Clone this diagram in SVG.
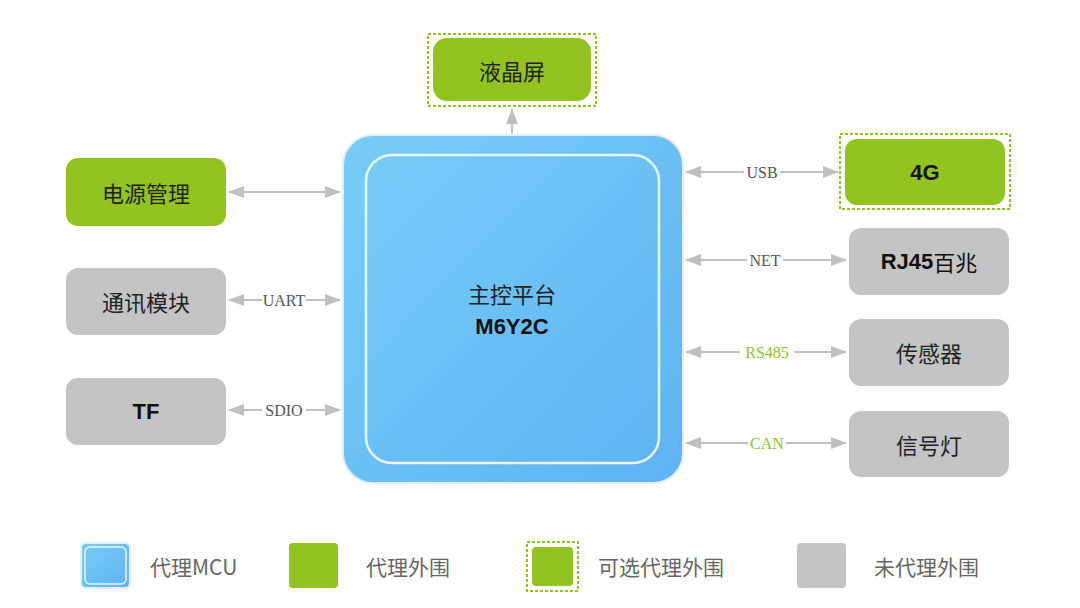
<svg xmlns="http://www.w3.org/2000/svg" width="1080" height="608" viewBox="0 0 1080 608">
<style>
.g{fill:#93c31f}
.gr{fill:#c4c4c4}
.dash{fill:none;stroke:#93c31f;stroke-width:2;stroke-dasharray:3 2}
.t{font-family:"Noto Sans CJK SC","Liberation Serif",serif;font-size:22px;fill:#222;text-anchor:middle;dominant-baseline:central}
.b{font-family:"Liberation Sans",Arial,sans-serif;font-size:22px;font-weight:bold;fill:#111;text-anchor:middle;dominant-baseline:central}
.l{font-family:"Liberation Serif","Noto Sans CJK SC",serif;font-size:16px;fill:#555;text-anchor:middle;dominant-baseline:central}
.lg{fill:#8fc31f}
.c{stroke:#c0c0c0;stroke-width:2;fill:none}
.lt{font-family:"Noto Sans CJK SC","Liberation Serif",serif;font-size:21px;fill:#666;dominant-baseline:central}
</style>
<defs>
<marker id="a" markerWidth="16" markerHeight="12" refX="15" refY="6" orient="auto-start-reverse" markerUnits="userSpaceOnUse"><path d="M0,0 L16,6 L0,12 Z" fill="#c0c0c0"/></marker>
<linearGradient id="bl" x1="0" y1="0" x2="1" y2="1"><stop offset="0" stop-color="#78cdf6"/><stop offset="1" stop-color="#5db3f4"/></linearGradient>
</defs>
<rect width="1080" height="608" fill="#fff"/>
<g id="connectors">
<line class="c" x1="512" y1="134" x2="512" y2="109" marker-end="url(#a)"/>
<line class="c" x1="229" y1="192" x2="340" y2="192" marker-start="url(#a)" marker-end="url(#a)"/>
<line class="c" x1="229" y1="300" x2="340" y2="300" marker-start="url(#a)" marker-end="url(#a)"/>
<line class="c" x1="229" y1="410" x2="340" y2="410" marker-start="url(#a)" marker-end="url(#a)"/>
<line class="c" x1="686" y1="172" x2="838" y2="172" marker-start="url(#a)" marker-end="url(#a)"/>
<line class="c" x1="686" y1="260" x2="846" y2="260" marker-start="url(#a)" marker-end="url(#a)"/>
<line class="c" x1="686" y1="352" x2="846" y2="352" marker-start="url(#a)" marker-end="url(#a)"/>
<line class="c" x1="686" y1="443" x2="846" y2="443" marker-start="url(#a)" marker-end="url(#a)"/>
<rect x="262" y="290" width="44" height="20" fill="#fff"/><text class="l" x="284" y="300">UART</text>
<rect x="262" y="400" width="44" height="20" fill="#fff"/><text class="l" x="284" y="410">SDIO</text>
<rect x="744" y="162" width="36" height="20" fill="#fff"/><text class="l" x="762" y="172">USB</text>
<rect x="747" y="250" width="36" height="20" fill="#fff"/><text class="l" x="765" y="260">NET</text>
<rect x="740" y="342" width="54" height="20" fill="#fff"/><text class="l lg" x="767" y="352">RS485</text>
<rect x="748" y="433" width="38" height="20" fill="#fff"/><text class="l lg" x="767" y="443">CAN</text>
</g>
<g id="mcu">
<rect x="343" y="135" width="340" height="348" rx="30" fill="url(#bl)" stroke="#e4eef6" stroke-width="2"/>
<rect x="366" y="155" width="293" height="308" rx="26" fill="none" stroke="#eaf6fd" stroke-width="2.5"/>
<text class="t" x="512" y="293">主控平台</text>
<text class="b" x="512" y="326">M6Y2C</text>
</g>
<g id="lcd"><rect class="dash" x="428" y="34" width="168" height="72"/><rect class="g" x="433" y="38" width="158" height="63" rx="14"/><text class="t" x="512" y="70">液晶屏</text></g>
<g id="power"><rect class="g" x="66" y="158" width="160" height="68" rx="12"/><text class="t" x="146" y="192">电源管理</text></g>
<g id="comm"><rect class="gr" x="66" y="268" width="160" height="67" rx="12"/><text class="t" x="146" y="301">通讯模块</text></g>
<g id="tf"><rect class="gr" x="66" y="378" width="160" height="67" rx="12"/><text class="b" x="146" y="411">TF</text></g>
<g id="g4"><rect class="dash" x="840" y="134" width="170" height="75"/><rect class="g" x="845" y="139" width="160" height="66" rx="12"/><text class="b" x="925" y="172">4G</text></g>
<g id="rj45"><rect class="gr" x="849" y="228" width="160" height="67" rx="12"/><text class="b" x="929" y="261">RJ45<tspan style="font-weight:normal;font-family:'Noto Sans CJK SC',sans-serif">百兆</tspan></text></g>
<g id="sensor"><rect class="gr" x="849" y="319" width="160" height="67" rx="12"/><text class="t" x="929" y="352">传感器</text></g>
<g id="light"><rect class="gr" x="849" y="411" width="160" height="66" rx="12"/><text class="t" x="929" y="444">信号灯</text></g>
<g id="legend">
<rect x="81" y="543" width="49" height="45" rx="5" fill="url(#bl)" stroke="#e4eef6" stroke-width="2"/>
<rect x="85" y="547" width="41" height="37" rx="5" fill="none" stroke="#eaf6fd" stroke-width="1.5"/>
<text class="lt" x="150" y="566">代理MCU</text>
<rect class="g" x="289" y="543" width="49" height="45" rx="4"/>
<text class="lt" x="366" y="566">代理外围</text>
<rect class="dash" x="527" y="542" width="51" height="49"/>
<rect class="g" x="532" y="547" width="41" height="39" rx="4"/>
<text class="lt" x="598" y="566">可选代理外围</text>
<rect class="gr" x="797" y="543" width="49" height="45" rx="4"/>
<text class="lt" x="874" y="566">未代理外围</text>
</g>
</svg>
